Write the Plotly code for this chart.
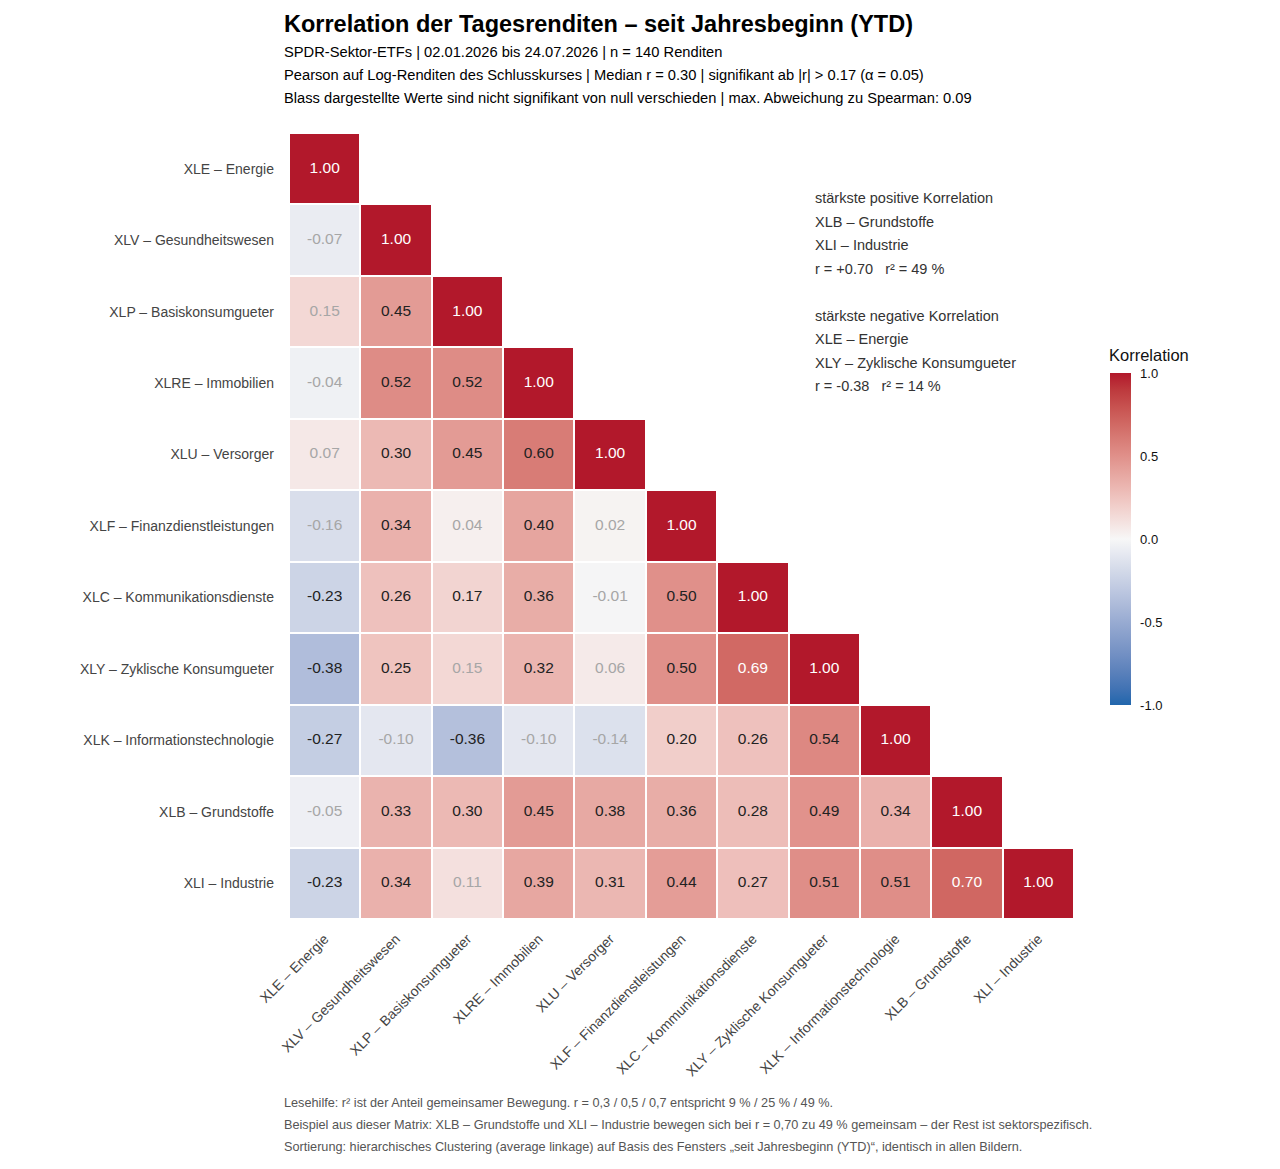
import plotly.graph_objects as go

# Data: sector order (clustered), lower triangle of Pearson r
sectors = [
    "XLE – Energie",
    "XLV – Gesundheitswesen",
    "XLP – Basiskonsumgueter",
    "XLRE – Immobilien",
    "XLU – Versorger",
    "XLF – Finanzdienstleistungen",
    "XLC – Kommunikationsdienste",
    "XLY – Zyklische Konsumgueter",
    "XLK – Informationstechnologie",
    "XLB – Grundstoffe",
    "XLI – Industrie",
]

corr_rows = [
    [1.00],
    [-0.07, 1.00],
    [0.15, 0.45, 1.00],
    [-0.04, 0.52, 0.52, 1.00],
    [0.07, 0.30, 0.45, 0.60, 1.00],
    [-0.16, 0.34, 0.04, 0.40, 0.02, 1.00],
    [-0.23, 0.26, 0.17, 0.36, -0.01, 0.50, 1.00],
    [-0.38, 0.25, 0.15, 0.32, 0.06, 0.50, 0.69, 1.00],
    [-0.27, -0.10, -0.36, -0.10, -0.14, 0.20, 0.26, 0.54, 1.00],
    [-0.05, 0.33, 0.30, 0.45, 0.38, 0.36, 0.28, 0.49, 0.34, 1.00],
    [-0.23, 0.34, 0.11, 0.39, 0.31, 0.44, 0.27, 0.51, 0.51, 0.70, 1.00],
]

sig_threshold = 0.17

colorbar_ticks = [-1, -0.5, 0, 0.5, 1]
colorbar_labels = ["-1.0", "-0.5", "0.0", "0.5", "1.0"]

title = "Korrelation der Tagesrenditen – seit Jahresbeginn (YTD)"
subtitle_lines = [
    "SPDR-Sektor-ETFs | 02.01.2026 bis 24.07.2026 | n = 140 Renditen",
    "Pearson auf Log-Renditen des Schlusskurses | Median r = 0.30 | signifikant ab |r| > 0.17 (α = 0.05)",
    "Blass dargestellte Werte sind nicht signifikant von null verschieden | max. Abweichung zu Spearman: 0.09",
]
side_lines = [
    "stärkste positive Korrelation",
    "XLB – Grundstoffe",
    "XLI – Industrie",
    "r = +0.70   r² = 49 %",
    "",
    "stärkste negative Korrelation",
    "XLE – Energie",
    "XLY – Zyklische Konsumgueter",
    "r = -0.38   r² = 14 %",
]
footer_lines = [
    "Lesehilfe: r² ist der Anteil gemeinsamer Bewegung. r = 0,3 / 0,5 / 0,7 entspricht 9 % / 25 % / 49 %.",
    "Beispiel aus dieser Matrix: XLB – Grundstoffe und XLI – Industrie bewegen sich bei r = 0,70 zu 49 % gemeinsam – der Rest ist sektorspezifisch.",
    "Sortierung: hierarchisches Clustering (average linkage) auf Basis des Fensters „seit Jahresbeginn (YTD)“, identisch in allen Bildern.",
]

FONT = "Liberation Sans, Arial, sans-serif"


# ---- diverging colour scale interpolated in CIELAB (like ggplot gradient2)
def hex_to_rgb(h):
    h = h.lstrip("#")
    return [int(h[i:i + 2], 16) / 255 for i in (0, 2, 4)]


def rgb_to_lab(rgb):
    def lin(c):
        return c / 12.92 if c <= 0.04045 else ((c + 0.055) / 1.055) ** 2.4
    r, g, b = [lin(c) for c in rgb]
    x = (0.4124 * r + 0.3576 * g + 0.1805 * b) / 0.95047
    y = (0.2126 * r + 0.7152 * g + 0.0722 * b)
    z = (0.0193 * r + 0.1192 * g + 0.9505 * b) / 1.08883

    def f(t):
        return t ** (1 / 3) if t > 0.008856 else 7.787 * t + 16 / 116
    fx, fy, fz = f(x), f(y), f(z)
    return [116 * fy - 16, 500 * (fx - fy), 200 * (fy - fz)]


def lab_to_rgb(lab):
    L, a, b = lab
    fy = (L + 16) / 116
    fx = fy + a / 500
    fz = fy - b / 200

    def finv(t):
        return t ** 3 if t ** 3 > 0.008856 else (t - 16 / 116) / 7.787
    x, y, z = finv(fx) * 0.95047, finv(fy), finv(fz) * 1.08883
    r = 3.2406 * x - 1.5372 * y - 0.4986 * z
    g = -0.9689 * x + 1.8758 * y + 0.0415 * z
    bb = 0.0557 * x - 0.2040 * y + 1.0570 * z

    def gam(c):
        c = c * 12.92 if c <= 0.0031308 else 1.055 * c ** (1 / 2.4) - 0.055
        return max(0, min(1, c))
    return "rgb(%d,%d,%d)" % tuple(round(gam(c) * 255) for c in (r, g, bb))


low, mid, high = rgb_to_lab(hex_to_rgb("#2166AC")), rgb_to_lab(hex_to_rgb("#F7F7F7")), rgb_to_lab(hex_to_rgb("#B2182B"))
colorscale = []
steps = 20
for i in range(steps + 1):
    t = i / steps
    if t <= 0.5:
        u = t / 0.5
        lab = [low[k] + (mid[k] - low[k]) * u for k in range(3)]
    else:
        u = (t - 0.5) / 0.5
        lab = [mid[k] + (high[k] - mid[k]) * u for k in range(3)]
    colorscale.append([t, lab_to_rgb(lab)])

# ---- matrix (upper triangle masked)
n = len(sectors)
z = [[row[j] if j < len(row) else None for j in range(n)] for row in corr_rows]

tx, ty, tt, tc = [], [], [], []
for i, row in enumerate(corr_rows):
    for j, v in enumerate(row):
        tx.append(sectors[j])
        ty.append(sectors[i])
        tt.append("%.2f" % v)
        if abs(v) < sig_threshold:
            tc.append("#A6A6A6")
        elif abs(v) >= 0.65:
            tc.append("#FFFFFF")
        else:
            tc.append("#222222")

# page coords of the plot area (the page body adds an 8px offset)
PL, PR, PT, PB = 289, 1074, 133, 919
OFF = 8
W, H = 1280 - 2 * OFF, 1169 - 2 * OFF


def px(x):
    return (x - PL) / (PR - PL)


def py(y):
    return (PB - y) / (PB - PT)


fig = go.Figure()
fig.add_trace(go.Heatmap(
    z=z, x=sectors, y=sectors,
    zmin=-1, zmax=1,
    colorscale=colorscale,
    xgap=2, ygap=2,
    hoverongaps=False,
    colorbar=dict(
        x=px(1100), xanchor="left", xref="paper",
        y=py(705), yanchor="bottom", len=(705 - 373) / (PB - PT), lenmode="fraction",
        thickness=21, outlinewidth=0, ypad=0,
        tickvals=colorbar_ticks,
        ticktext=colorbar_labels,
        ticks="outside", ticklen=7, tickcolor="white", tickwidth=1,
        tickfont=dict(size=13, color="#111111"),
    ),
))
fig.add_trace(go.Scatter(
    x=tx, y=ty, text=tt, mode="text",
    textfont=dict(size=15.5, color=tc, family=FONT),
    hoverinfo="skip", showlegend=False,
))

annotations = [dict(
    text="<b>" + title + "</b>", x=px(282), y=py(24), xref="paper", yref="paper",
    xanchor="left", yanchor="middle", showarrow=False,
    font=dict(size=23.5, color="#000000"),
)]
for k, line in enumerate(subtitle_lines):
    annotations.append(dict(
        text=line, x=px(282), y=py(52 + 23 * k), xref="paper", yref="paper",
        xanchor="left", yanchor="middle", showarrow=False,
        font=dict(size=14.7, color="#000000"),
    ))
for k, line in enumerate(side_lines):
    if not line:
        continue
    annotations.append(dict(
        text=line, x=px(813), y=py(198 + 23.5 * k), xref="paper", yref="paper",
        xanchor="left", yanchor="middle", showarrow=False,
        font=dict(size=14.5, color="#333333"),
    ))
for k, line in enumerate(footer_lines):
    annotations.append(dict(
        text=line, x=px(282), y=py(1103 + 22 * k), xref="paper", yref="paper",
        xanchor="left", yanchor="middle", showarrow=False,
        font=dict(size=12.7, color="#555555"),
    ))
# colour bar title
annotations.append(dict(
    text="Korrelation", x=px(1107), y=py(355), xref="paper", yref="paper",
    xanchor="left", yanchor="middle", showarrow=False,
    font=dict(size=16.5, color="#111111"),
))

fig.update_xaxes(
    type="category", categoryorder="array", categoryarray=sectors,
    range=[-0.5, n - 0.5], showgrid=False, zeroline=False, showline=False,
    tickangle=-45, tickfont=dict(size=14, color="#444444"),
    ticks="", ticklabelstandoff=8,
)
fig.update_yaxes(
    type="category", categoryorder="array", categoryarray=sectors,
    range=[n - 0.5, -0.5], showgrid=False, zeroline=False, showline=False,
    tickfont=dict(size=14, color="#444444"),
    ticks="", ticklabelstandoff=14,
)
fig.update_layout(
    width=W, height=H,
    margin=dict(l=PL - OFF, r=W - (PR - OFF), t=PT - OFF, b=H - (PB - OFF), autoexpand=False),
    paper_bgcolor="white", plot_bgcolor="white",
    font=dict(family=FONT),
    annotations=annotations,
    showlegend=False,
)

fig.write_html("out.html")
